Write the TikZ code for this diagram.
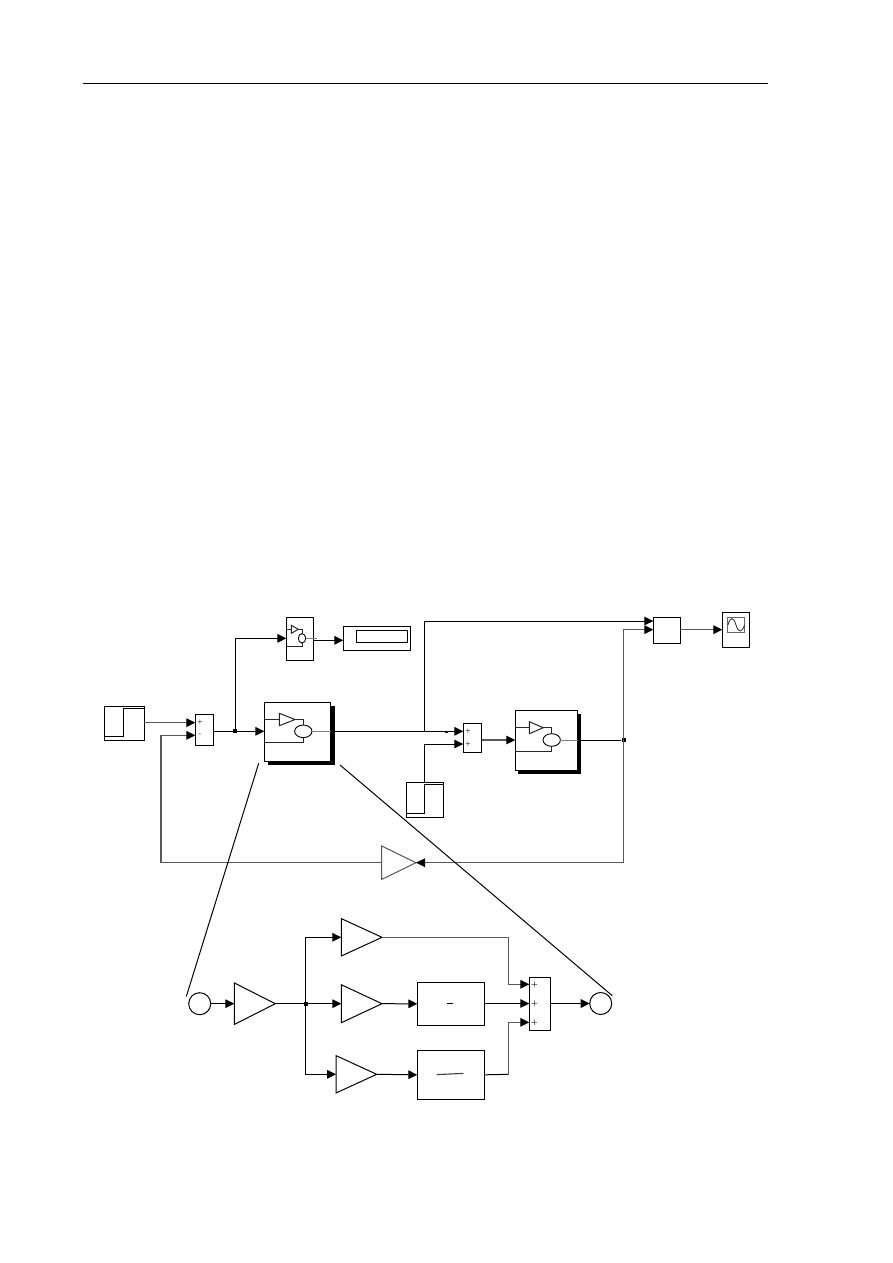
\documentclass[tikz,border=0pt]{standalone}
\usetikzlibrary{arrows.meta,shapes.geometric}
\tikzset{
  x=1pt,y=-1pt,
  wire/.style={line width=1pt,draw=black},
  greywire/.style={line width=1.1pt,draw=black!65},
  flow/.style={wire,-{Triangle[length=9pt,width=8.6pt]}},
  greyflow/.style={line width=1.1pt,draw=black!65,-{Triangle[length=9pt,width=8.6pt,color=black]}},
  blockbox/.style={draw=black,line width=1pt,fill=white,inner sep=0pt,outer sep=0pt,rectangle},
  gainbox/.style={inner sep=0pt,outer sep=0pt,rectangle},
  junction/.style={fill=black,inner sep=0pt,minimum size=4.2pt,rectangle},
  sign/.style={inner sep=0pt,font=\fontsize{7}{7}\selectfont\bfseries},
  tinysign/.style={inner sep=0pt,font=\fontsize{5}{5}\selectfont\bfseries},
  innerline/.style={line width=.9pt,draw=black!85},
  sumring/.style={draw=black,line width=.9pt,fill=white,ellipse,inner sep=0pt,outer sep=0pt},
  port/.style={draw=black,line width=1pt,fill=white,circle,inner sep=0pt,outer sep=0pt,minimum size=22pt},
  callout/.style={line width=1pt,draw=black},
}
% rectangular block given by its corners
\newcommand{\blk}[5]{\node[blockbox,minimum width={(#4-#2)*1pt},minimum height={(#5-#3)*1pt}] (#1) at ({(#2+#4)/2},{(#3+#5)/2}) {};}
% gain triangle: base at x=#3, apex at x=#4, centred on y=#5, half height #6
\newcommand{\gain}[6][black]{\node[gainbox,minimum width={(abs(#4-#3))*1pt},minimum height={2*#6*1pt}] (#2) at ({(#3+#4)/2},#5) {};
  \draw[line width=1pt,draw=#1] (#2.north west) -- (#2.east) -- (#2.south west) -- cycle;}
\begin{document}
\begin{tikzpicture}
\useasboundingbox (0,0) rectangle (893,1263);
\fill[white] (0,0) rectangle (893,1263);

% page header rule
\coordinate (ruleA) at (83,83);
\coordinate (ruleB) at (768,83);
\draw[line width=.9pt] (ruleA) -- (ruleB);

% ---------- top-level model ----------
% first step source and summing junction
\blk{stepA}{104.3}{706.3}{144.3}{740.3}
\draw[wire] (105,736.5) -- (123.5,736.5) -- (123.5,708.5) -- (143.5,708.5);
\blk{sumA}{195.3}{714.3}{213.3}{745.7}
\node[tinysign] (sumAp) at (200,722.7) {+};
\node[tinysign] (sumAm) at (200,735) {-};
\coordinate (sumAin1) at (195.3,722.7);
\coordinate (sumAin2) at (195.3,735.3);
\coordinate (sumAout) at (213.3,731.3);
\coordinate (stepAout) at (144.3,722.7);
\draw[greyflow] (stepAout) -- (sumAin1);

% first subsystem with drop shadow
\node[fill=black,inner sep=0pt,minimum width=66.4pt,minimum height=59pt] (mainShadow) at (301.5,735.3) {};
\blk{mainSub}{264.3}{702.3}{330.7}{761.3}
\coordinate (mainIn) at (264.3,731.3);
\coordinate (mainOut) at (330.7,731.3);
\gain[black!85]{mainTri}{279.3}{295}{719.5}{6.2}
\node[sumring,minimum width=17.4pt,minimum height=12.6pt] (mainRing) at (303.3,731.3) {};
\draw[innerline] (264.3,719.5) -- (mainTri.west);
\draw[innerline] (mainTri.east) -| (mainRing.north);
\draw[innerline] (264.3,742.3) -| (mainRing.south);
\draw[line width=.9pt,draw=black!50] (mainRing.east) -- (mainOut);

% small monitoring subsystem and its display
\blk{monSub}{286.3}{617.3}{313.3}{660.3}
\gain[black!85]{monTri}{291.3}{298.3}{629.3}{4}
\node[sumring,minimum width=7.4pt,minimum height=9.4pt] (monRing) at (302,638.3) {};
\draw[innerline] (286.3,629.3) -- (monTri.west);
\draw[innerline] (monTri.east) -| (monRing.north);
\draw[innerline] (286.3,646.7) -| (monRing.south);
\draw[line width=.9pt,draw=black!50] (monRing.east) -- (316.7,638.3);
\blk{display}{343.3}{626.3}{410.3}{650.3}
\blk{displayField}{356.3}{630.3}{407.3}{642.3}
\coordinate (monIn) at (286.3,638.3);
\coordinate (monOut) at (313.3,640.3);
\coordinate (displayIn) at (343.3,640.3);
\draw[flow] (monOut) -- (displayIn);

% branch from the first error signal
\node[junction] (jErr) at (235,731.3) {};
\draw[wire] (sumAout) -- (jErr);
\draw[flow] (jErr.center) -- (mainIn);
\draw[flow] (jErr.center) |- (monIn);

% second summing junction, second step source, second subsystem
\blk{sumB}{463.3}{723.3}{481.7}{752.7}
\node[tinysign] (sumBp1) at (468,731.3) {+};
\node[tinysign] (sumBp2) at (468,744) {+};
\coordinate (sumBin1) at (463.3,731.3);
\coordinate (sumBin2) at (463.3,744);
\coordinate (sumBout) at (481.7,740);
\blk{stepB}{406.3}{782.3}{443.7}{817.7}
\draw[wire] (407,813.3) -- (424.7,813.3) -- (424.7,784.3) -- (443,784.3);
\coordinate (stepBout) at (424.7,782.3);
\draw[flow] (mainOut) -- (sumBin1);
\draw[line width=1.6pt] (445,732.4) -- (448,732.4);
\draw[flow] (stepBout) |- (sumBin2);

\node[fill=black,inner sep=0pt,minimum width=62.4pt,minimum height=60.4pt] (subShadow) at (549.5,744) {};
\blk{subB}{515.3}{710.3}{577.7}{770.7}
\coordinate (subBin) at (515.3,740);
\coordinate (subBout) at (577.7,740);
\gain[black!85]{subTri}{529.3}{543.3}{727.7}{6}
\node[sumring,minimum width=17.4pt,minimum height=12.6pt] (subRing) at (551.7,740) {};
\draw[innerline] (515.3,727.7) -- (subTri.west);
\draw[innerline] (subTri.east) -| (subRing.north);
\draw[innerline] (515.3,751.7) -| (subRing.south);
\draw[line width=.9pt,draw=black!50] (subRing.east) -- (subBout);
\draw[greyflow] (sumBout) -- (subBin);

% mux and scope
\blk{mux}{653.3}{617.3}{680.7}{643.3}
\blk{scope}{722.3}{612.3}{749.7}{647.3}
\node[draw=black!60,line width=1pt,fill=white,inner sep=0pt,minimum width=17pt,minimum height=15pt] (scopeScreen) at (736.2,624.8) {};
\draw[line width=.8pt,draw=black!85] (728,625) .. controls (730,616.5) and (733.5,616.5) .. (736,625)
  .. controls (738.5,633) and (742,633) .. (744.5,625);
\coordinate (muxIn1) at (653.3,621);
\coordinate (muxIn2) at (653.3,629.7);
\coordinate (muxOut) at (680.7,629.7);
\coordinate (scopeIn) at (722.3,629.7);
\draw[greyflow] (muxOut) -- (scopeIn);
\coordinate (tapMain) at (424.3,731.3);
\draw[flow] (tapMain) |- (muxIn1);

% plant output branch and feedback path
\node[junction] (jOut) at (623.7,740) {};
\draw[wire] (subBout) -- (jOut);
\draw[greyflow] (jOut.center) |- (muxIn2);
\gain[black!65]{fbGain}{416}{381.7}{862.7}{16.7}
\coordinate (fbIn) at (fbGain.east);
\coordinate (fbOut) at (fbGain.west);
\coordinate (fbCorner) at (161,862.7);
\draw[greyflow] (jOut.center) |- (fbIn);
\draw[greywire] (fbOut) -- (fbCorner);
\draw[greyflow] (fbCorner) |- (sumAin2);

% ---------- expanded view of the first subsystem ----------
\node[port] (inPort) at (199.7,1003.7) {};
\gain{gainK}{234.3}{275.3}{1003.7}{20.8}
\gain{gainP}{341.3}{382}{937.3}{18.7}
\gain{gainI}{341.3}{382}{1003.7}{19}
\gain{gainD}{336}{376.7}{1074.3}{18.7}

\blk{intBox}{417.3}{982.3}{484.7}{1025.3}
\blk{derBox}{417.3}{1050.3}{484.7}{1099.3}
\coordinate (intBarL) at (446.7,1003.4);
\coordinate (intBarR) at (453.3,1003.4);
\draw[line width=1.1pt] (intBarL) -- (intBarR);
\coordinate (derBarL) at (436.7,1074.6);
\coordinate (derBarR) at (463.3,1073.4);
\draw[line width=1.1pt,draw=black!75] (derBarL) -- (derBarR);

\blk{sumC}{529.3}{977.3}{550.7}{1030.3}
\node[sign] (sumCp1) at (534.3,984.3) {+};
\node[sign] (sumCp2) at (534.3,1003.5) {+};
\node[sign] (sumCp3) at (534.3,1022.3) {+};
\coordinate (sumCin1) at (529.3,984.3);
\coordinate (sumCin2) at (529.3,1003.5);
\coordinate (sumCin3) at (529.3,1022.3);
\coordinate (sumCout) at (550.7,1003.5);
\node[port] (outPort) at (600.7,1003.5) {};

\draw[flow] (inPort) -- (gainK.west);
\coordinate (busX) at (305.3,1003.7);
\draw[flow] (gainK.east) -- (gainI.west);
\draw[flow] (busX) |- (gainP.west);
\draw[flow] (busX) |- (gainD.west);
\node[junction] (jPid) at (306.3,1003.7) {};
\draw[flow] (gainI.east) -- (intBox.west);
\draw[flow] (gainD.east) -- (derBox.west);
\coordinate (busTop) at (508.7,937.3);
\coordinate (busBot) at (508.7,1074.3);
\draw[greywire] (gainP.east) -- (busTop);
\draw[greyflow] (busTop) |- (sumCin1);
\draw[wire] (derBox.east) -- (busBot);
\draw[greyflow] (busBot) |- (sumCin3);
\draw[flow] (intBox.east |- sumCin2) -- (sumCin2);
\draw[flow] (sumCout) -- (outPort);

% callout lines tying the subsystem to its expansion
\coordinate (calloutA) at (258.7,763.3);
\coordinate (calloutB) at (340,765);
\coordinate (calloutAend) at (186.3,996.5);
\coordinate (calloutBend) at (612.3,995.7);
\draw[callout] (calloutA) -- (calloutAend);
\draw[callout] (calloutB) -- (calloutBend);
\end{tikzpicture}
\end{document}
